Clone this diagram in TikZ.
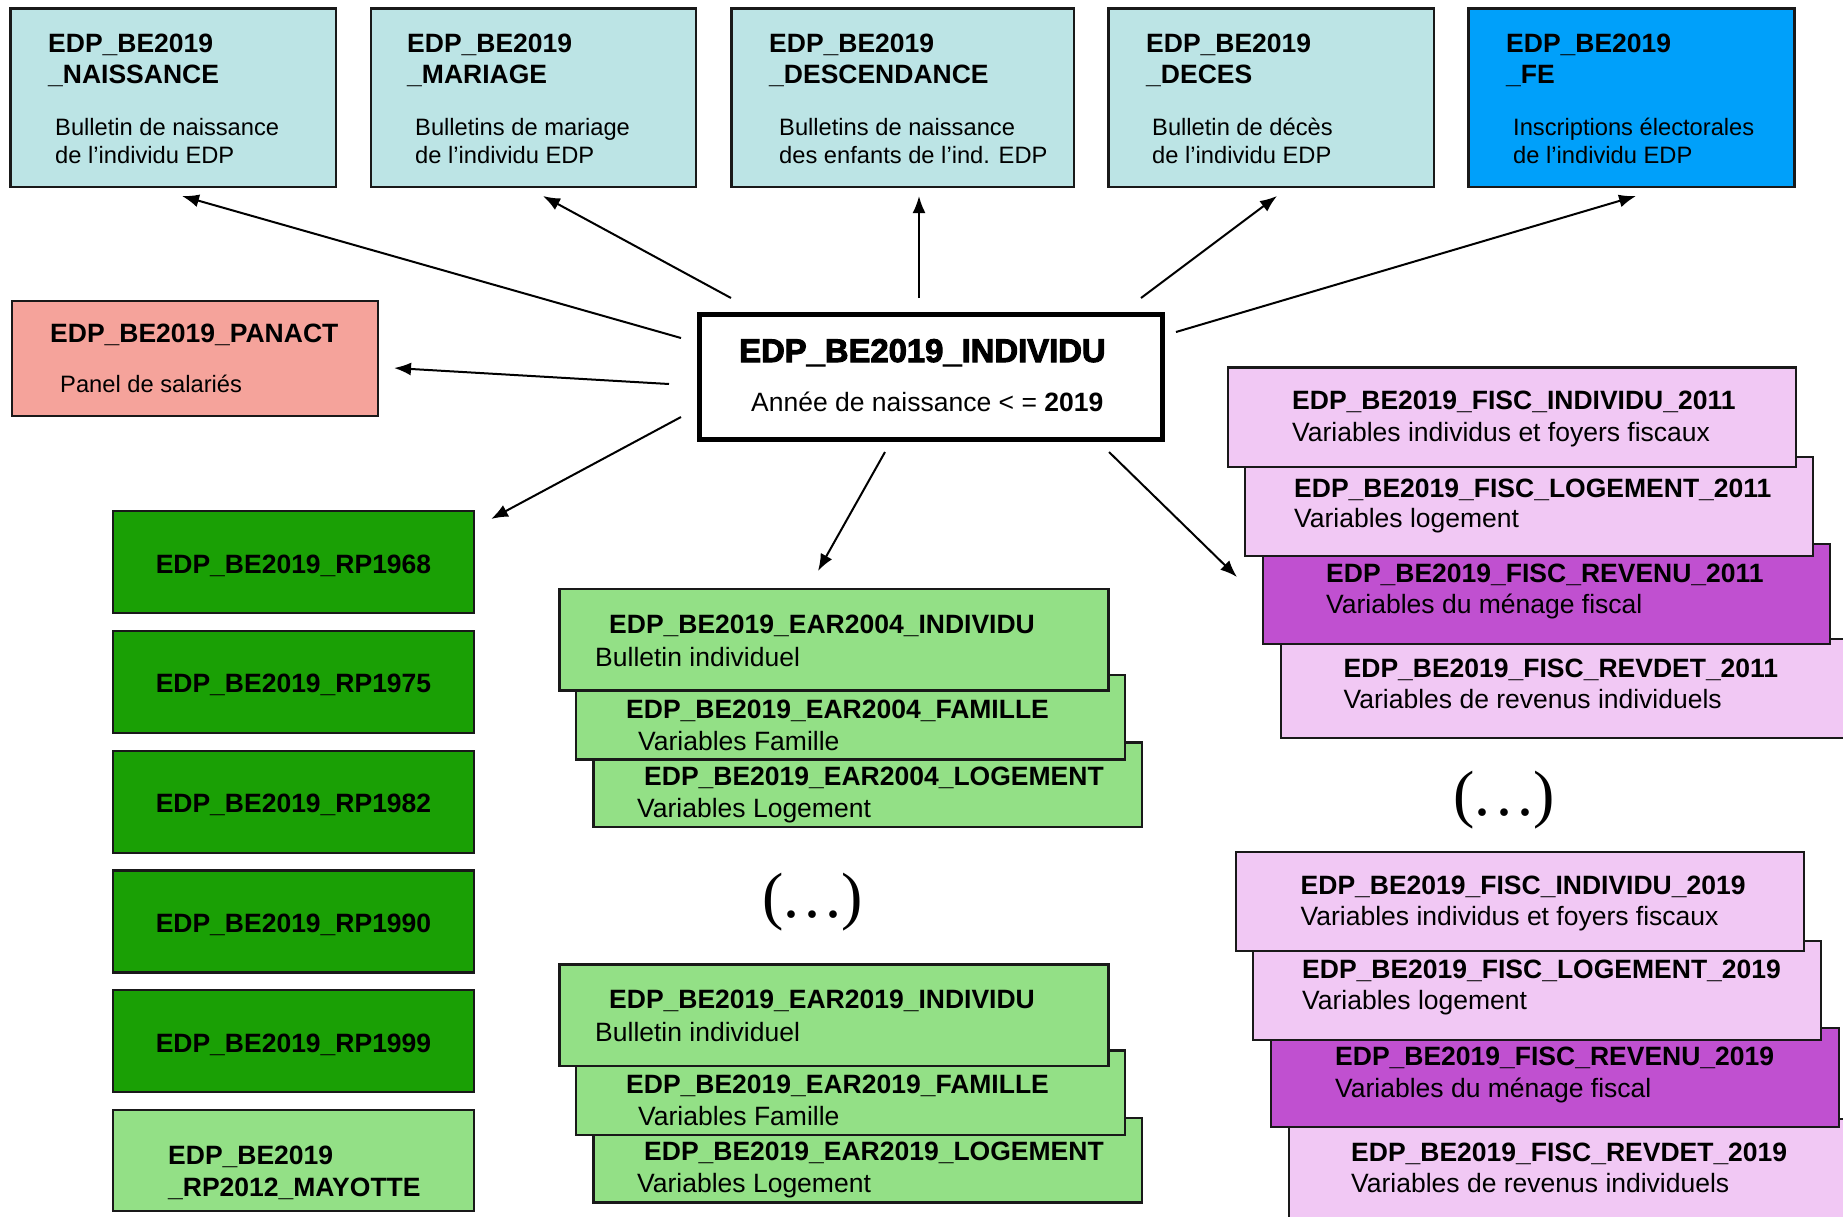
\documentclass[tikz,border=0pt]{standalone}
\usepackage{fontspec}
\usetikzlibrary{arrows.meta}
\newfontfamily\arial{Liberation Sans}
\newfontfamily\heavyfont{Liberation Sans Bold}[FakeBold=3]
\newfontfamily\dotsfont{Liberation Serif}
\definecolor{cyanbox}{RGB}{188,228,229}
\definecolor{bluebox}{RGB}{0,160,250}
\definecolor{salmonbox}{RGB}{245,163,155}
\definecolor{darkgreen}{RGB}{26,160,5}
\definecolor{lightgreen}{RGB}{147,224,134}
\definecolor{pinkbox}{RGB}{241,200,244}
\definecolor{purplebox}{RGB}{192,80,208}
\definecolor{edge}{RGB}{25,25,25}
\begin{document}
\begin{tikzpicture}[x=1pt,y=-1pt,
  box/.style={draw=edge, line width=2.2pt, inner sep=0pt, outer sep=0pt, anchor=north west},
  ttl/.style={font=\arial\bfseries\fontsize{26.5}{30}\selectfont, inner sep=0pt, anchor=base west},
  txt/.style={font=\arial\fontsize{26.5}{30}\selectfont, inner sep=0pt, anchor=base west},
  smalltxt/.style={font=\arial\fontsize{23.7}{28}\selectfont, inner sep=0pt, anchor=base west},
  heavy/.style={font=\heavyfont\fontsize{32.8}{36}\selectfont, inner sep=0pt, anchor=base west},
  dotstxt/.style={font=\dotsfont\fontsize{64}{70}\selectfont, inner sep=0pt, anchor=base},
  link/.style={draw=black, line width=2pt, -{Latex[length=17pt,width=13pt]}}
]
\path[use as bounding box] (0,0) rectangle (1843,1216);
\clip (0,0) rectangle (1843,1216);
\fill[white] (0,0) rectangle (1843,1216);

% ---- top row
\node[box, fill=cyanbox, minimum width=325.5, minimum height=178.5] (nais) at (10.5,8.5) {};
\node[ttl] (naist1) at (48,52) {EDP\_BE2019};
\node[ttl] (naist2) at (48,83) {\_NAISSANCE};
\node[smalltxt] (naisb1) at (55,135) {Bulletin de naissance};
\node[smalltxt] (naisb2) at (55,163) {de l’individu EDP};

\node[box, fill=cyanbox, minimum width=325, minimum height=178.5] (mar) at (371,8.5) {};
\node[ttl] (mart1) at (407,52) {EDP\_BE2019};
\node[ttl] (mart2) at (407,83) {\_MARIAGE};
\node[smalltxt] (marb1) at (415,135) {Bulletins de mariage};
\node[smalltxt] (marb2) at (415,163) {de l’individu EDP};

\node[box, fill=cyanbox, minimum width=342.5, minimum height=178.5] (desc) at (731.5,8.5) {};
\node[ttl] (desct1) at (769,52) {EDP\_BE2019};
\node[ttl] (desct2) at (769,83) {\_DESCENDANCE};
\node[smalltxt] (descb1) at (779,135) {Bulletins de naissance};
\node[smalltxt] (descb2) at (779,163) {des enfants de l’ind. EDP};

\node[box, fill=cyanbox, minimum width=325.5, minimum height=178.5] (dec) at (1108.5,8.5) {};
\node[ttl] (dect1) at (1146,52) {EDP\_BE2019};
\node[ttl] (dect2) at (1146,83) {\_DECES};
\node[smalltxt] (decb1) at (1152,135) {Bulletin de décès};
\node[smalltxt] (decb2) at (1152,163) {de l’individu EDP};

\node[box, fill=bluebox, minimum width=326, minimum height=178.5] (fe) at (1468.5,8.5) {};
\node[ttl] (fet1) at (1506,52) {EDP\_BE2019};
\node[ttl] (fet2) at (1506,83) {\_FE};
\node[smalltxt] (feb1) at (1513,135) {Inscriptions électorales};
\node[smalltxt] (feb2) at (1513,163) {de l’individu EDP};

% ---- PANACT
\node[box, fill=salmonbox, minimum width=366, minimum height=115] (pan) at (12,301) {};
\node[ttl] (pant) at (50,342) {EDP\_BE2019\_PANACT};
\node[smalltxt] (panb) at (60,392) {Panel de salariés};

% ---- central
\node[box, fill=white, line width=5pt, draw=black, minimum width=463, minimum height=125] (ind) at (699.5,314.5) {};
\node[heavy] (indt) at (739,362) {EDP\_BE2019\_INDIVIDU};
\node[txt] (indb) at (751,411) {Année de naissance < = \textbf{2019}};

% ---- RP boxes
\node[box, fill=darkgreen, minimum width=361, minimum height=102] (rp68) at (113,511) {};
\node[ttl, anchor=base] (rp68t) at (293.5,573) {EDP\_BE2019\_RP1968};
\node[box, fill=darkgreen, minimum width=361, minimum height=102] (rp75) at (113,630.8) {};
\node[ttl, anchor=base] (rp75t) at (293.5,692.8) {EDP\_BE2019\_RP1975};
\node[box, fill=darkgreen, minimum width=361, minimum height=102] (rp82) at (113,750.6) {};
\node[ttl, anchor=base] (rp82t) at (293.5,812.6) {EDP\_BE2019\_RP1982};
\node[box, fill=darkgreen, minimum width=361, minimum height=102] (rp90) at (113,870.4) {};
\node[ttl, anchor=base] (rp90t) at (293.5,932.4) {EDP\_BE2019\_RP1990};
\node[box, fill=darkgreen, minimum width=361, minimum height=102] (rp99) at (113,990.2) {};
\node[ttl, anchor=base] (rp99t) at (293.5,1052.2) {EDP\_BE2019\_RP1999};
\node[box, fill=lightgreen, minimum width=361, minimum height=101] (rpmay) at (113,1110) {};
\node[ttl] (rpmayt1) at (168,1164) {EDP\_BE2019};
\node[ttl] (rpmayt2) at (168,1196) {\_RP2012\_MAYOTTE};

% ---- EAR 2004
\node[box, fill=lightgreen, minimum width=548.5, minimum height=84.5] (log04) at (593.5,742.5) {};
\node[ttl] (log04t) at (644,785) {EDP\_BE2019\_EAR2004\_LOGEMENT};
\node[txt] (log04b) at (637,817) {Variables Logement};
\node[box, fill=lightgreen, minimum width=549, minimum height=84.5] (fam04) at (576,675) {};
\node[ttl] (fam04t) at (626,718) {EDP\_BE2019\_EAR2004\_FAMILLE};
\node[txt] (fam04b) at (638,750) {Variables Famille};
\node[box, fill=lightgreen, minimum width=549, minimum height=101.5] (ind04) at (559.5,589) {};
\node[ttl] (ind04t) at (609,633) {EDP\_BE2019\_EAR2004\_INDIVIDU};
\node[txt] (ind04b) at (595,666) {Bulletin individuel};

\node[dotstxt] (dotsear) at (812.5,917) {(.\kern0.08em.\kern0.08em.)};

% ---- EAR 2019
\node[box, fill=lightgreen, minimum width=548.5, minimum height=84.5] (log19) at (593.5,1118) {};
\node[ttl] (log19t) at (644,1160.5) {EDP\_BE2019\_EAR2019\_LOGEMENT};
\node[txt] (log19b) at (637,1192) {Variables Logement};
\node[box, fill=lightgreen, minimum width=549, minimum height=84.5] (fam19) at (576,1050.5) {};
\node[ttl] (fam19t) at (626,1093.5) {EDP\_BE2019\_EAR2019\_FAMILLE};
\node[txt] (fam19b) at (638,1125.5) {Variables Famille};
\node[box, fill=lightgreen, minimum width=549, minimum height=101.5] (ind19) at (559.5,964.5) {};
\node[ttl] (ind19t) at (609,1008.5) {EDP\_BE2019\_EAR2019\_INDIVIDU};
\node[txt] (ind19b) at (595,1041.5) {Bulletin individuel};

% ---- FISC 2011
\node[box, fill=pinkbox, minimum width=600, minimum height=99] (fd11) at (1281,639) {};
\node[ttl] (fd11t) at (1343.5,677) {EDP\_BE2019\_FISC\_REVDET\_2011};
\node[txt] (fd11b) at (1343.5,708.5) {Variables de revenus individuels};
\node[box, fill=purplebox, minimum width=567, minimum height=100] (fr11) at (1263,544) {};
\node[ttl] (fr11t) at (1326,582) {EDP\_BE2019\_FISC\_REVENU\_2011};
\node[txt] (fr11b) at (1326,613) {Variables du ménage fiscal};
\node[box, fill=pinkbox, minimum width=568, minimum height=99] (fl11) at (1245,457) {};
\node[ttl] (fl11t) at (1294,497) {EDP\_BE2019\_FISC\_LOGEMENT\_2011};
\node[txt] (fl11b) at (1294,527) {Variables logement};
\node[box, fill=pinkbox, minimum width=568, minimum height=99.5] (fi11) at (1228,367.5) {};
\node[ttl] (fi11t) at (1292,409) {EDP\_BE2019\_FISC\_INDIVIDU\_2011};
\node[txt] (fi11b) at (1292,441) {Variables individus et foyers fiscaux};

\node[dotstxt] (dotsfisc) at (1504,815) {(.\kern0.08em.\kern0.08em.)};

% ---- FISC 2019
\node[box, fill=pinkbox, minimum width=600, minimum height=130] (fd19) at (1289,1119) {};
\node[ttl] (fd19t) at (1351,1161) {EDP\_BE2019\_FISC\_REVDET\_2019};
\node[txt] (fd19b) at (1351,1192) {Variables de revenus individuels};
\node[box, fill=purplebox, minimum width=568, minimum height=99] (fr19) at (1271,1028) {};
\node[ttl] (fr19t) at (1335,1065) {EDP\_BE2019\_FISC\_REVENU\_2019};
\node[txt] (fr19b) at (1335,1097) {Variables du ménage fiscal};
\node[box, fill=pinkbox, minimum width=568, minimum height=99] (fl19) at (1253,941) {};
\node[ttl] (fl19t) at (1302,978) {EDP\_BE2019\_FISC\_LOGEMENT\_2019};
\node[txt] (fl19b) at (1302,1009) {Variables logement};
\node[box, fill=pinkbox, minimum width=568, minimum height=99] (fi19) at (1236,852) {};
\node[ttl] (fi19t) at (1300.5,894) {EDP\_BE2019\_FISC\_INDIVIDU\_2019};
\node[txt] (fi19b) at (1300.5,925.5) {Variables individus et foyers fiscaux};

% ---- arrows
\coordinate (sNais) at (681,338);  \coordinate (eNais) at (182,196);
\coordinate (sMar) at (731,298);   \coordinate (eMar) at (543,196);
\coordinate (sDesc) at (919,298);  \coordinate (eDesc) at (919,196);
\coordinate (sDec) at (1141,298);  \coordinate (eDec) at (1277,196);
\coordinate (sFe) at (1176,332);   \coordinate (eFe) at (1636,196);
\coordinate (sPan) at (669,384);   \coordinate (ePan) at (394,368);
\coordinate (sRp) at (681,417);    \coordinate (eRp) at (491,519);
\coordinate (sEar) at (885,452);   \coordinate (eEar) at (818,571);
\coordinate (sFisc) at (1109,452); \coordinate (eFisc) at (1237,577);
\draw[link] (sNais) -- (eNais);
\draw[link] (sMar) -- (eMar);
\draw[link] (sDesc) -- (eDesc);
\draw[link] (sDec) -- (eDec);
\draw[link] (sFe) -- (eFe);
\draw[link] (sPan) -- (ePan);
\draw[link] (sRp) -- (eRp);
\draw[link] (sEar) -- (eEar);
\draw[link] (sFisc) -- (eFisc);
\end{tikzpicture}
\end{document}
